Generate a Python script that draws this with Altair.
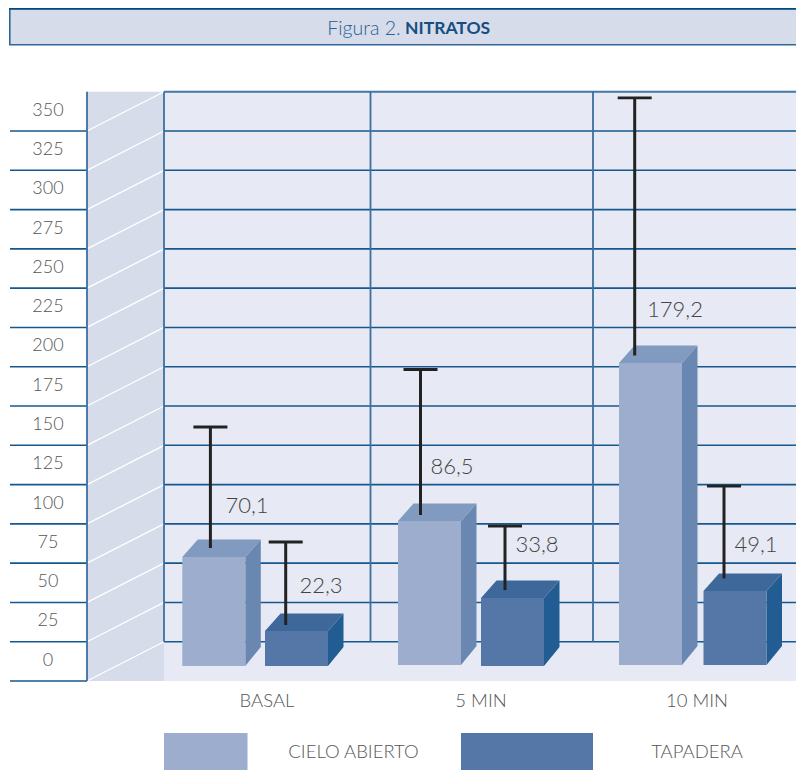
import altair as alt
import pandas as pd

# ---- values ----
categories = ["BASAL", "5 MIN", "10 MIN"]
series = ["CIELO ABIERTO", "TAPADERA"]
printed = ["70,1", "22,3", "86,5", "33,8", "179,2", "49,1"]
bar_top = [69.4, 22.3, 92.3, 43.3, 192.9, 47.7]
bar_base = [0.0, 0.0, 0.6, 0.0, 0.6, 0.6]
err_low = [75.1, 26.1, 96.1, 48.3, 197.6, 55.7]
err_high = [152.1, 78.9, 188.7, 89.1, 361.5, 114.5]
tick_values = list(range(0, 351, 25))

# ---- layout ----
FONT = "Lato"
W, H = 788, 762
PX_PER_UNIT = 1.5714
V_TOP = (666 - 8) / PX_PER_UNIT      # unit at top of canvas
V_BOT = -(770 - 666) / PX_PER_UNIT
XS = alt.Scale(domain=[8, 796], nice=False, zero=False)
YS = alt.Scale(domain=[V_BOT, V_TOP], nice=False, zero=False)
def X(f): return alt.X(f, type="quantitative", scale=XS, axis=None, title=None)
def Y(f): return alt.Y(f, type="quantitative", scale=YS, axis=None, title=None)

bar_left = [182.3, 265, 398, 481, 619, 703.5]
bar_w, dx, dv = 63, 15.5, 11.1
stem_x = [210.4, 285.7, 420.5, 505, 634.7, 724]
label_x = [247, 321, 452, 537, 675, 756]
label_v = [102.0, 51.0, 126.8, 77.1, 226.7, 77.1]
cat_x = [267, 481, 697]
front0 = -9.55                 # front edge of the side wall, tick 0
back0 = front0 + 25            # back wall, tick 0
wall_top = back0 + 25 * 14
wall_l, wall_r, right = 87, 164, 796

C_FRONT = ["#9cadcd", "#5477a8"]
C_TOP = ["#819abf", "#3e6899"]
C_SIDE = ["#6a87b2", "#215c92"]
C_LINE = "#15588f"
C_VLINE = "#3c6f9f"
C_WALL = "#d6dcea"
C_BACK = "#e7eaf4"

one = pd.DataFrame({"a": [0]})

rows_b, rows_s, rows_t, rows_e, rows_v = [], [], [], [], []
for i, (t, b, l) in enumerate(zip(bar_top, bar_base, bar_left)):
    c = i % 2
    r = l + bar_w
    rows_b.append(dict(id=i, c=C_FRONT[c], x=l, x2=r, y=t, y2=b))
    rows_s += [dict(id=i, c=C_SIDE[c], x=r, y=t, y2=b), dict(id=i, c=C_SIDE[c], x=r + dx, y=t + dv, y2=b + dv + 1)]
    rows_t += [dict(id=i, c=C_TOP[c], x=l, x2=r, y=t), dict(id=i, c=C_TOP[c], x=l + dx, x2=r + dx, y=t + dv)]
    rows_e.append(dict(x=stem_x[i], x0=stem_x[i] - 17, x1=stem_x[i] + 17, lo=err_low[i], hi=err_high[i]))
    rows_v.append(dict(x=label_x[i], y=label_v[i], t=printed[i]))
front = pd.DataFrame(rows_b)
side = pd.DataFrame(rows_s)
top = pd.DataFrame(rows_t)
err = pd.DataFrame(rows_e)
vals = pd.DataFrame(rows_v)
FILL = alt.Color("c:N", scale=None)

layers = []

def box(x, x2, y, y2, fill):
    return alt.Chart(pd.DataFrame({"x": [x], "x2": [x2], "y": [y], "y2": [y2]})).mark_rect(color=fill, strokeWidth=0).encode(
        X("x"), x2="x2:Q", y=Y("y"), y2="y2:Q")

def hline(x0, x1, ys, col=C_LINE, w=1.6):
    return alt.Chart(pd.DataFrame({"y": ys, "x": [x0] * len(ys), "x2": [x1] * len(ys)})).mark_rule(color=col, strokeWidth=w).encode(
        X("x"), x2="x2:Q", y=Y("y"))

def vline(xs, lo, hi, col=C_VLINE, w=1.8):
    return alt.Chart(pd.DataFrame({"x": xs, "y": [lo] * len(xs), "y2": [hi] * len(xs)})).mark_rule(color=col, strokeWidth=w).encode(
        X("x"), y=Y("y"), y2="y2:Q")

# title band
layers.append(alt.Chart(one).mark_rect(color=C_WALL, stroke="#2f679b", strokeWidth=1.6).encode(
    x=alt.value(1.8), x2=alt.value(800), y=alt.value(0.9), y2=alt.value(36.8)))
layers.append(alt.Chart(one).mark_rule(color="#004b85", strokeWidth=1.4).encode(
    x=alt.value(1), x2=alt.value(800), y=alt.value(0.7)))
layers.append(alt.Chart(one).mark_text(font=FONT, fontSize=19.5, fontWeight=300, align="right", baseline="middle", color="#2a6094",
    text="Figura 2.").encode(x=alt.value(392.5), y=alt.value(20.5)))
layers.append(alt.Chart(one).mark_text(font=FONT, fontSize=17.5, fontWeight="bold", align="left", baseline="middle", color="#174d82",
    text="NITRATOS").encode(x=alt.value(397), y=alt.value(20.5)))

# walls and floor
layers.append(box(wall_l, wall_r, front0, wall_top, C_WALL))
layers.append(box(wall_r, right, front0, wall_top, C_BACK))

# slanted lines on side wall
sl = []
for k in range(len(tick_values)):
    v = front0 + 25 * k
    sl += [dict(id=k, x=wall_l, y=v), dict(id=k, x=wall_r, y=v + 25)]
layers.append(alt.Chart(pd.DataFrame(sl)).mark_line(color="#ffffff", strokeWidth=1.3).encode(
    X("x"), Y("y"), detail="id:N"))

# grid
n = len(tick_values)
layers.append(hline(wall_r, right, [back0 + 25 * k for k in range(n - 1)]))
layers.append(hline(10, wall_l, [front0 + 25 * k for k in range(n)]))
layers.append(hline(wall_r, right, [wall_top], col="#4377a5", w=2.2))
layers.append(vline([wall_l], front0, wall_top))
layers.append(vline([wall_r, 370.5, 593], back0, wall_top))

# tick labels
ticks = pd.DataFrame({"t": [str(v) for v in tick_values], "y": [front0 + 12.9 + 25 * k for k in range(n)], "x": [48] * n})
layers.append(alt.Chart(ticks).mark_text(font=FONT, fontSize=18, fontWeight=300, color="#555555", align="center", baseline="middle").encode(
    X("x"), Y("y"), text="t:N"))

# bars
layers.append(alt.Chart(side).mark_area(orient="vertical").encode(X("x"), Y("y"), y2="y2:Q", fill=FILL, detail="id:N"))
layers.append(alt.Chart(top).mark_area(orient="horizontal").encode(X("x"), x2="x2:Q", y=Y("y"), fill=FILL, detail="id:N"))
layers.append(alt.Chart(front).mark_rect(strokeWidth=0).encode(X("x"), x2="x2:Q", y=Y("y"), y2="y2:Q", fill=FILL))

# error bars
layers.append(alt.Chart(err).mark_rule(color="#222222", strokeWidth=3).encode(X("x"), y=Y("lo"), y2="hi:Q"))
layers.append(alt.Chart(err).mark_rule(color="#222222", strokeWidth=2.8).encode(X("x0"), x2="x1:Q", y=Y("hi")))

# value labels
layers.append(alt.Chart(vals).mark_text(font=FONT, fontSize=22, fontWeight=300, color="#444444", align="center", baseline="middle").encode(
    X("x"), Y("y"), text="t:N"))

# category labels
cats = pd.DataFrame({"t": categories, "x": cat_x})
layers.append(alt.Chart(cats).mark_text(font=FONT, fontSize=18.5, fontWeight=300, color="#555555", align="center", baseline="middle").encode(
    X("x"), y=alt.value(692.8), text="t:N"))

# legend
for c, x0, x1, tx, name in [(C_FRONT[0], 156, 239.5, 345.5, series[0]), (C_FRONT[1], 453, 585, 689, series[1])]:
    layers.append(alt.Chart(one).mark_rect(color=c, strokeWidth=0).encode(
        x=alt.value(x0), x2=alt.value(x1), y=alt.value(725), y2=alt.value(762)))
    layers.append(alt.Chart(one).mark_text(font=FONT, fontSize=18.5, fontWeight=300, color="#555555", align="center", baseline="middle", text=name).encode(
        x=alt.value(tx), y=alt.value(743.8)))

chart = alt.layer(*layers).resolve_scale(y="shared", x="shared").properties(
    width=W, height=H, padding=0, autosize=alt.AutoSizeParams(type="none")
).configure_view(stroke=None)

CSS = "body{margin:8px 0 0 8px !important} svg{flex:0 0 auto !important;min-width:788px !important;display:block}"
chart.save("out.html", embed_options={"renderer": "svg", "actions": False, "defaultStyle": CSS})
